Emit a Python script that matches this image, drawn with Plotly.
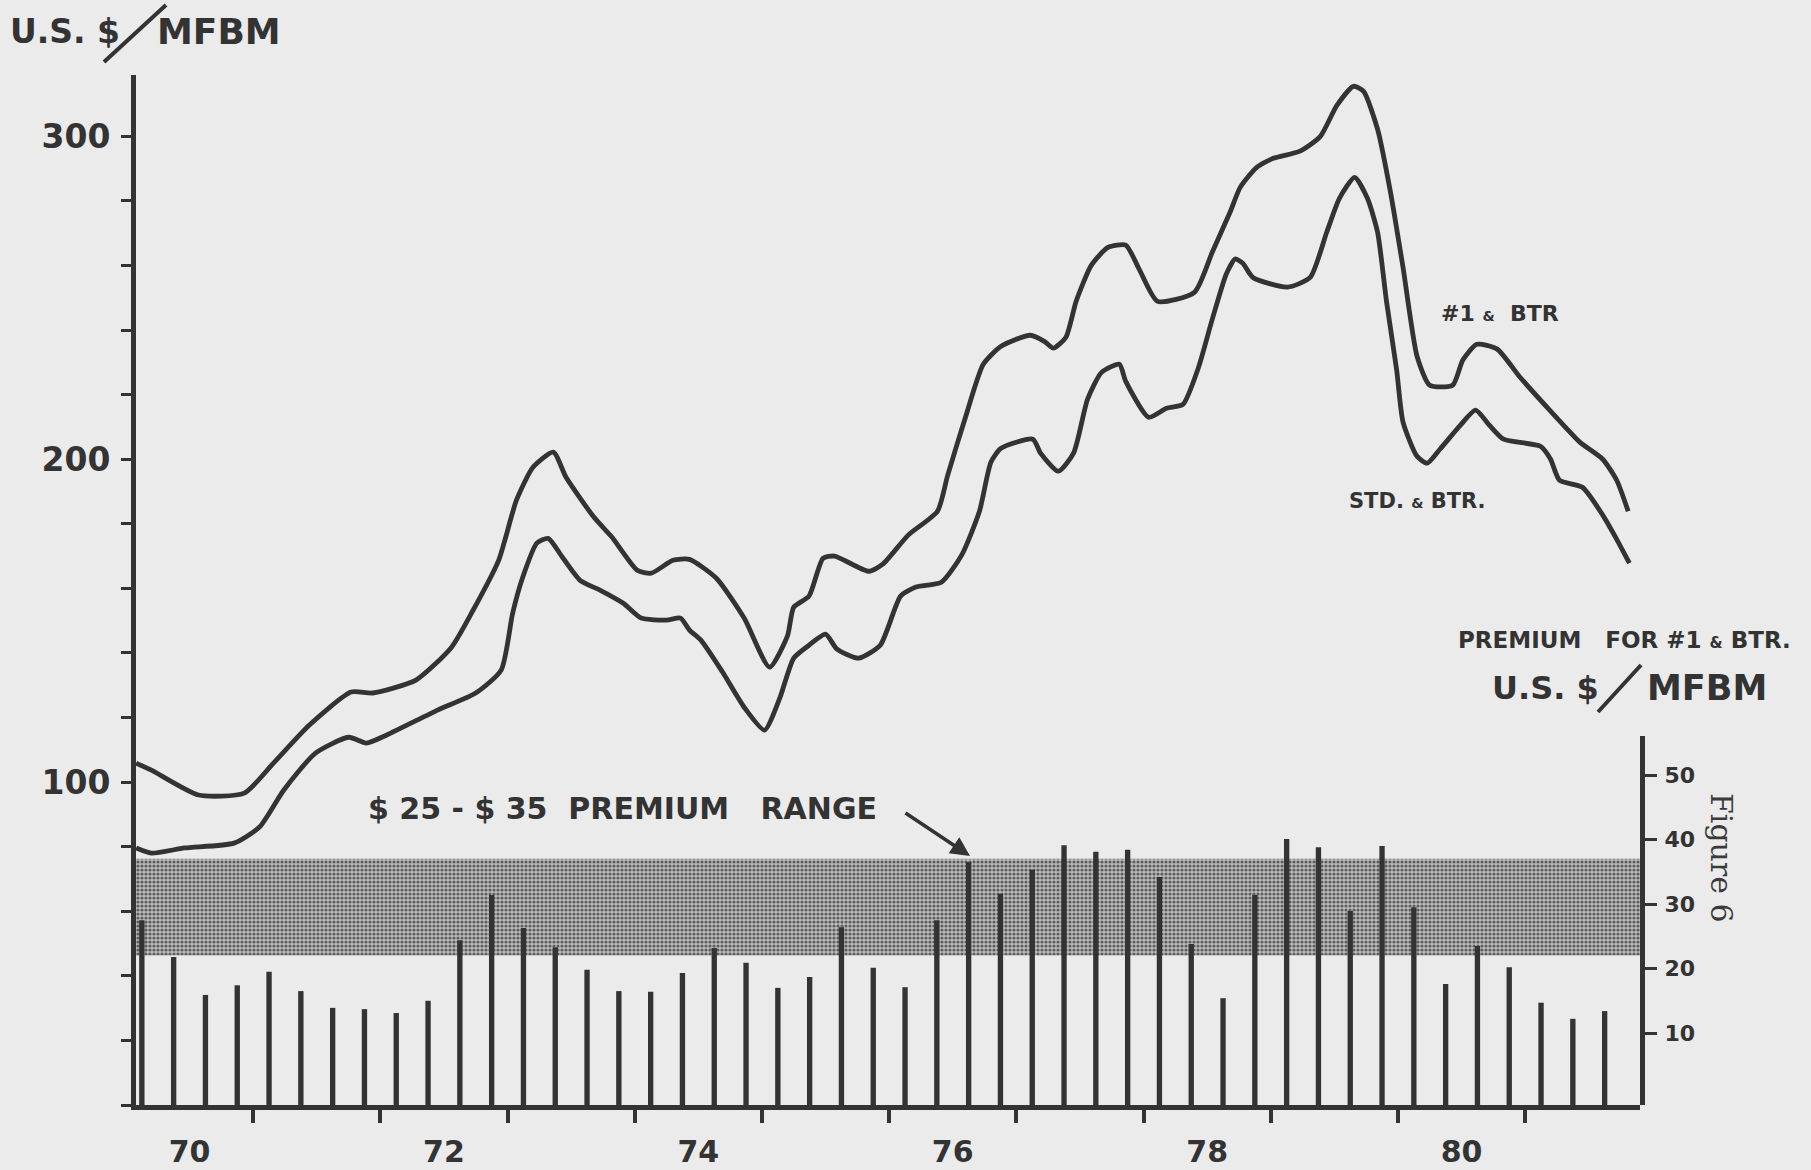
import plotly.graph_objects as go

# ---------------- data ----------------
# #1 & BTR price, U.S.$/MFBM (decimal year)
NO1_YEARS = [1970.08, 1970.20, 1970.57, 1970.93, 1971.16, 1971.44, 1971.77, 1971.94, 1972.28, 1972.56,
             1972.73, 1972.93, 1973.07, 1973.20, 1973.36, 1973.46, 1973.68, 1973.82, 1974.02, 1974.13,
             1974.30, 1974.43, 1974.64, 1974.86, 1975.06, 1975.20, 1975.25, 1975.37, 1975.48, 1975.57,
             1975.84, 1975.95, 1976.15, 1976.38, 1976.46, 1976.60, 1976.74, 1976.88, 1977.11, 1977.22,
             1977.29, 1977.39, 1977.47, 1977.59, 1977.72, 1977.86, 1977.97, 1978.11, 1978.40, 1978.54,
             1978.68, 1978.76, 1978.89, 1979.02, 1979.23, 1979.39, 1979.52, 1979.65, 1979.73, 1979.84,
             1979.94, 1980.04, 1980.15, 1980.25, 1980.43, 1980.51, 1980.62, 1980.78, 1980.96, 1981.20,
             1981.43, 1981.61, 1981.72, 1981.81]
NO1_PRICE = [105.9, 103.7, 96.0, 96.6, 105.9, 117.6, 127.9, 127.6, 131.6, 141.8,
             153.3, 168.7, 187.3, 197.5, 202.2, 194.4, 182.0, 175.9, 165.6, 164.7,
             168.7, 169.0, 163.2, 150.8, 135.6, 145.2, 154.2, 157.6, 169.3, 170.0,
             165.3, 167.5, 176.5, 183.9, 195.0, 213.0, 229.4, 235.0, 238.4, 236.5,
             234.4, 237.8, 248.9, 260.1, 265.6, 266.3, 258.5, 248.9, 251.7, 264.1,
             276.5, 284.2, 290.4, 293.2, 295.4, 300.0, 309.6, 315.5, 313.9, 302.2,
             283.0, 259.4, 231.9, 222.9, 222.9, 230.7, 235.6, 234.1, 225.4, 214.9,
             205.3, 200.0, 193.5, 183.9]

# STD & BTR price, U.S.$/MFBM
STD_YEARS = [1970.08, 1970.20, 1970.46, 1970.85, 1971.05, 1971.24, 1971.49, 1971.75, 1971.89, 1972.05,
             1972.45, 1972.75, 1972.95, 1973.04, 1973.12, 1973.23, 1973.32, 1973.43, 1973.57, 1973.73,
             1973.91, 1974.05, 1974.25, 1974.36, 1974.43, 1974.52, 1974.69, 1974.86, 1975.02, 1975.14,
             1975.25, 1975.37, 1975.50, 1975.59, 1975.76, 1975.93, 1976.09, 1976.21, 1976.41, 1976.57,
             1976.71, 1976.80, 1976.88, 1977.13, 1977.19, 1977.33, 1977.45, 1977.56, 1977.67, 1977.81,
             1977.86, 1978.04, 1978.18, 1978.31, 1978.43, 1978.54, 1978.65, 1978.72, 1978.78, 1978.86,
             1979.13, 1979.31, 1979.44, 1979.54, 1979.66, 1979.76, 1979.84, 1979.91, 1979.99, 1980.04,
             1980.15, 1980.23, 1980.33, 1980.49, 1980.61, 1980.72, 1980.83, 1981.12, 1981.20, 1981.27,
             1981.45, 1981.61, 1981.72, 1981.82]
STD_PRICE = [79.6, 78.0, 79.6, 81.1, 86.1, 97.5, 109.0, 113.9, 112.1, 114.6,
             122.3, 127.6, 134.7, 152.3, 163.5, 174.0, 175.5, 169.7, 162.5, 159.4,
             155.4, 150.8, 150.2, 150.8, 147.1, 144.0, 134.1, 123.2, 116.1, 126.0,
             138.4, 142.4, 145.8, 141.2, 138.4, 142.4, 157.6, 160.4, 161.9, 170.3,
             183.9, 199.1, 203.4, 206.2, 201.9, 196.3, 201.9, 218.6, 226.9, 229.4,
             224.1, 213.0, 215.8, 217.0, 228.2, 243.3, 257.3, 262.0, 260.7, 256.3,
             253.3, 256.3, 270.3, 280.8, 287.3, 280.8, 270.3, 248.9, 227.6, 211.5,
             200.9, 198.8, 203.1, 210.5, 215.2, 210.5, 206.2, 204.0, 200.0, 193.5,
             191.3, 182.7, 175.2, 167.8]

# Quarterly premium for #1 & BTR, U.S.$/MFBM (1970 Q1 .. 1981 Q3)
PREMIUM_START_YEAR = 1970
PREMIUM = [27.5, 21.8, 15.9, 17.4, 19.5, 16.5, 13.9, 13.7, 13.1, 15.0,
           24.4, 31.4, 26.3, 23.3, 19.8, 16.5, 16.4, 19.3, 23.2, 20.9,
           17.0, 18.7, 26.4, 20.1, 17.1, 27.5, 36.5, 31.6, 35.3, 39.1,
           38.1, 38.4, 34.2, 23.8, 15.4, 31.4, 40.1, 38.8, 28.9, 39.0,
           29.5, 17.6, 23.5, 20.2, 14.7, 12.2, 13.4]

PREMIUM_BAND = [22.0, 37.0]          # shaded range as drawn
YEAR_TICKS = list(range(1971, 1982))
YEAR_LABELS = ["70", "72", "74", "76", "78", "80"]
PRICE_TICKS = [100, 200, 300]
PREMIUM_TICKS = [10, 20, 30, 40, 50]

# ---------------- layout constants ----------------
W, H = 1811, 1170
PL, PR, PT, PB = 136, 1640, 75, 1105
X_RANGE = [1970.079, 1981.903]
Y_RANGE = [0, 319]
Y2_RANGE = [-1.16, 56.05]
Y2_DOMAIN_TOP = (PB - 736) / (PB - PT)

INK = "#333333"
BG = "#ebebeb"
FONT = "DejaVu Sans"


def px(x):
    return (x - PL) / (PR - PL)


def py(y):
    return (PB - y) / (PB - PT)


bar_x = [PREMIUM_START_YEAR + (i + 0.5) / 4 for i in range(len(PREMIUM))]

fig = go.Figure()

# shaded premium band (drawn as one wide bar so the stems sit on top of it)
fig.add_trace(go.Bar(
    x=[(X_RANGE[0] + X_RANGE[1]) / 2], y=[PREMIUM_BAND[1] - PREMIUM_BAND[0]],
    base=[PREMIUM_BAND[0]], width=[X_RANGE[1] - X_RANGE[0]],
    xaxis="x", yaxis="y2",
    marker=dict(color="#b0b0b0", line=dict(width=0),
                pattern=dict(shape=".", size=4, solidity=0.5,
                             fgcolor="#5e5e5e", bgcolor="#bcbcbc", fillmode="replace")),
    hoverinfo="skip", showlegend=False,
))

# premium bars
fig.add_trace(go.Bar(
    x=bar_x, y=[v - Y2_RANGE[0] for v in PREMIUM], base=Y2_RANGE[0],
    xaxis="x", yaxis="y2", width=0.042,
    marker=dict(color=INK, line=dict(width=0)),
    showlegend=False, name="Premium",
))

# price lines
for xs, ys, nm in [(NO1_YEARS, NO1_PRICE, "#1 & BTR"), (STD_YEARS, STD_PRICE, "STD. & BTR.")]:
    fig.add_trace(go.Scatter(
        x=xs, y=ys, mode="lines", name=nm, showlegend=False,
        line=dict(color=INK, width=4.8, shape="spline", smoothing=0.6),
        xaxis="x", yaxis="y",
    ))

tick_font = dict(family=FONT, color=INK, weight="bold")

fig.update_layout(
    width=W, height=H, autosize=False,
    margin=dict(l=PL, r=W - PR, t=PT, b=H - PB, pad=0, autoexpand=False),
    paper_bgcolor=BG, plot_bgcolor="rgba(0,0,0,0)",
    showlegend=False, barmode="overlay",
    xaxis=dict(
        range=X_RANGE, showgrid=False, zeroline=False, automargin=False,
        showline=True, linecolor=INK, linewidth=5,
        tickmode="array",
        tickvals=[int(l) + 1900.5 for l in YEAR_LABELS],
        ticktext=YEAR_LABELS, ticks="",
        tickfont=dict(size=30, **tick_font),
        ticklabelstandoff=16,
        minor=dict(tickmode="array", tickvals=YEAR_TICKS, ticks="outside",
                   ticklen=13, tickwidth=4, tickcolor=INK, showgrid=False),
    ),
    yaxis=dict(
        range=Y_RANGE, domain=[0, 1], showgrid=False, zeroline=False, automargin=False,
        showline=True, linecolor=INK, linewidth=5,
        tickmode="array", tickvals=PRICE_TICKS,
        ticks="outside", ticklen=10, tickwidth=3, tickcolor=INK,
        tickfont=dict(size=33, **tick_font),
        ticklabelstandoff=4,
        minor=dict(tickmode="linear", tick0=0, dtick=20, ticks="outside",
                   ticklen=10, tickwidth=3, tickcolor=INK, showgrid=False),
    ),
    yaxis2=dict(
        range=Y2_RANGE, domain=[0, Y2_DOMAIN_TOP], anchor="x", side="right",
        showgrid=False, zeroline=False, automargin=False,
        showline=True, linecolor=INK, linewidth=5,
        tickmode="array", tickvals=PREMIUM_TICKS,
        ticks="outside", ticklen=12, tickwidth=3, tickcolor=INK,
        tickfont=dict(size=22, **tick_font),
        ticklabelstandoff=3,
    ),
)

ann = []


def text(s, x, y, size, anchor="left", family=FONT, weight="bold", angle=0, color=INK):
    ann.append(dict(text=s, x=px(x), y=py(y), xref="paper", yref="paper",
                    xanchor=anchor, yanchor="middle", showarrow=False, textangle=angle,
                    font=dict(family=family, size=size, color=color, weight=weight)))


def amp(sz):
    return '<span style="font-size:%dpx">&amp;</span>' % sz


# left axis title
text("U.S. $", 8, 31, 33)
text("MFBM", 155, 31, 36)
# right axis title
text("PREMIUM   FOR #1 " + amp(15) + " BTR.", 1456, 640, 23)
text("U.S. $", 1490, 688, 32)
text("MFBM", 1645, 688, 35)
# series labels
text("#1 " + amp(14) + "  BTR", 1500, 313, 22, anchor="center")
text("STD. " + amp(14) + " BTR.", 1417, 501, 21, anchor="center")
# band label
text("$ 25 - $ 35  PREMIUM   RANGE", 366, 808, 30)
# figure number
text("Figure 6", 1722, 858, 30, anchor="center", family="DejaVu Serif", weight="normal",
     angle=90, color="#3a3a3a")

# arrow to band
ann.append(dict(text="", x=px(970), y=py(856), xref="paper", yref="paper",
                ax=-66, ay=-44, axref="pixel", ayref="pixel", showarrow=True,
                arrowhead=2, arrowsize=1.1, arrowwidth=3.5, arrowcolor=INK))

fig.update_layout(annotations=ann)

# slashes in axis titles
fig.add_shape(type="line", xref="paper", yref="paper",
              x0=px(104), y0=py(62), x1=px(166), y1=py(5), line=dict(color=INK, width=4))
fig.add_shape(type="line", xref="paper", yref="paper",
              x0=px(1598), y0=py(712), x1=px(1641), y1=py(665), line=dict(color=INK, width=4))

fig.write_html("out.html")
